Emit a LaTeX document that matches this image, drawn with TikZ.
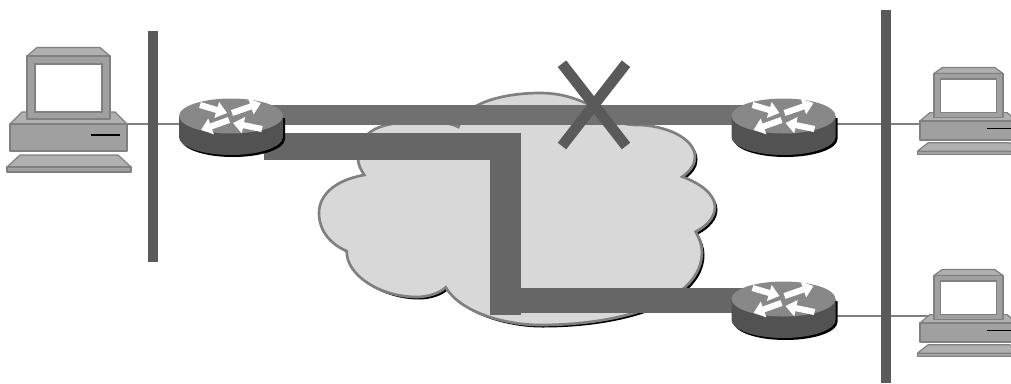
\documentclass[tikz,border=0pt]{standalone}
\usetikzlibrary{arrows.meta}

\definecolor{barGray}{HTML}{5A5A5A}
\definecolor{linkTop}{HTML}{707070}
\definecolor{linkLow}{HTML}{666666}
\definecolor{edgeGray}{HTML}{808080}
\definecolor{cloudFill}{HTML}{D8D8D8}
\definecolor{pcFront}{HTML}{A0A0A0}
\definecolor{pcTop}{HTML}{B0B0B0}
\definecolor{rtrTop}{HTML}{888888}
\definecolor{rtrSide}{HTML}{525252}

\tikzset{
    pcpart/.style={fill=pcFront, draw=edgeGray, line width=0.9pt, line join=round},
    pclid/.style={pcpart, fill=pcTop},
    lanbar/.style={draw=barGray, line width=7.5pt},
    lanline/.style={draw=edgeGray, line width=0.8pt},
    arrowwhite/.style={draw=white, line width=4.6pt, -{Triangle[length=8pt,width=12pt]}},
    router/.pic={
        \fill[black, shift={(2,2)}] (-52,0) -- (-52,21) arc[start angle=180, end angle=0, x radius=52, y radius=18] -- (52,0) -- cycle;
        \fill[rtrSide] (-52,0) -- (-52,21) arc[start angle=180, end angle=0, x radius=52, y radius=18] -- (52,0) -- cycle;
        \fill[rtrTop] (0,0) ellipse[x radius=52, y radius=17.5];
        \draw[arrowwhite] (-31,-11) -- (-4,-3);
        \draw[arrowwhite] (1,-3) -- (30,-13);
        \draw[arrowwhite] (-2,4) -- (-30,14);
        \draw[arrowwhite] (31,13) -- (2,7);
    },
    computer/.pic={
        % keyboard
        \draw[pclid] (-61.5,43) -- (-48.5,31) -- (49.5,31) -- (62.5,43) -- cycle;
        \draw[pcpart] (-61.5,43) rectangle (62.5,48);
        % base
        \draw[pclid] (-58.5,0) -- (-46.5,-12) -- (46.5,-12) -- (58.5,0) -- cycle;
        \draw[pcpart] (-58.5,0) rectangle (58.5,27);
        \draw[line width=0.9pt] (22.5,11) -- (51.5,11);
        % monitor
        \draw[pclid] (-41.5,-68) -- (-31.5,-76.5) -- (31.5,-76.5) -- (41.5,-68) -- cycle;
        \draw[pcpart] (-41.5,-68) rectangle (41.5,-5);
        \draw[fill=white, draw=edgeGray, line width=0.9pt] (-33.5,-60) rectangle (33.5,-12);
    }
}

\def\cloudoutline{(364.3,175)
    .. controls (335,180) and (319,195) .. (319,213)
    .. controls (319,232) and (332,245) .. (346.7,251)
    .. controls (346,275) and (380,297) .. (417,297)
    .. controls (428,297) and (440,293) .. (445.7,287.3)
    .. controls (460,312) and (505,325) .. (540,325)
    .. controls (625,325) and (702,300) .. (702,252)
    .. controls (702,245) and (699,238) .. (695.7,231.7)
    .. controls (707,226) and (715,217) .. (715,207)
    .. controls (715,195) and (702,184) .. (682.3,176.7)
    .. controls (692,170) and (695,163) .. (695,157)
    .. controls (695,138) and (665,125) .. (637,125)
    .. controls (620,125) and (605,118) .. (590,105)
    .. controls (575,98) and (560,93) .. (540,93)
    .. controls (510,93) and (480,100) .. (468,112)
    .. controls (463,117) and (460,122) .. (458.3,127)
    .. controls (440,118) and (400,120) .. (380,127)
    .. controls (365,132) and (357,145) .. (358,158)
    .. controls (358,165) and (361,170) .. (364.3,175) -- cycle}

\begin{document}
\begin{tikzpicture}[x=0.75pt, y=-0.75pt]
    \useasboundingbox (0,0) rectangle (1011,383);
    \clip (0,0) rectangle (1011,383);

    \coordinate (pcA) at (68.5,124);
    \coordinate (pcB) at (968.5,121);
    \coordinate (pcC) at (968.5,323);
    \coordinate (rtrA) at (231,116);
    \coordinate (rtrB) at (783.5,116);
    \coordinate (rtrC) at (783.5,299);

    % lan segments
    \coordinate (lanAtop) at (153,31);
    \coordinate (lanAbot) at (153,262);
    \coordinate (lanBtop) at (886,10);
    \coordinate (lanBbot) at (886,383);

    \draw[lanline] ([yshift=-6pt]rtrA) -- (pcA);
    \draw[lanline] ([yshift=-6pt]rtrB) -- ([yshift=-2.25pt]pcB);
    \draw[lanline] ([yshift=-12.75pt]rtrC) -- ([yshift=5.25pt]pcC);

    \draw[lanbar] (lanAtop) -- (lanAbot);
    \draw[lanbar] (lanBtop) -- (lanBbot);

    % cloud
    \fill[black, shift={(2.5,2.5)}] \cloudoutline;
    \draw[fill=cloudFill, draw=edgeGray, line width=2pt] \cloudoutline;

    % the two paths
    \coordinate (backupStart) at (264,146.5);
    \coordinate (elbowA) at (521,146.5);
    \coordinate (elbowB) at (505.5,133);
    \coordinate (elbowC) at (505.5,315);
    \coordinate (elbowD) at (490,300.5);

    \draw[linkTop, line width=15pt] ([yshift=0.75pt]rtrA) -- ([yshift=0.75pt]rtrB);
    \draw[linkLow, line width=20.25pt] (backupStart) -- (elbowA);
    \draw[linkLow, line width=23.25pt] (elbowB) -- (elbowC);
    \draw[linkLow, line width=18.75pt] (elbowD) -- (elbowD -| rtrC);

    % break mark
    \coordinate (crossNW) at (562,63.7);
    \coordinate (crossNE) at (626,63.7);
    \coordinate (crossSW) at (562,146);
    \coordinate (crossSE) at (626,146);
    \draw[barGray, line width=8pt] (crossNW) -- (crossSE);
    \draw[barGray, line width=8pt] (crossNE) -- (crossSW);

    \foreach \rtr in {rtrA,rtrB,rtrC}
        \pic at (\rtr) {router};

    \pic at (pcA) {computer};
    \pic[xscale=0.83, yscale=0.7] at (pcB) {computer};
    \pic[xscale=0.83, yscale=0.7] at (pcC) {computer};
\end{tikzpicture}
\end{document}
